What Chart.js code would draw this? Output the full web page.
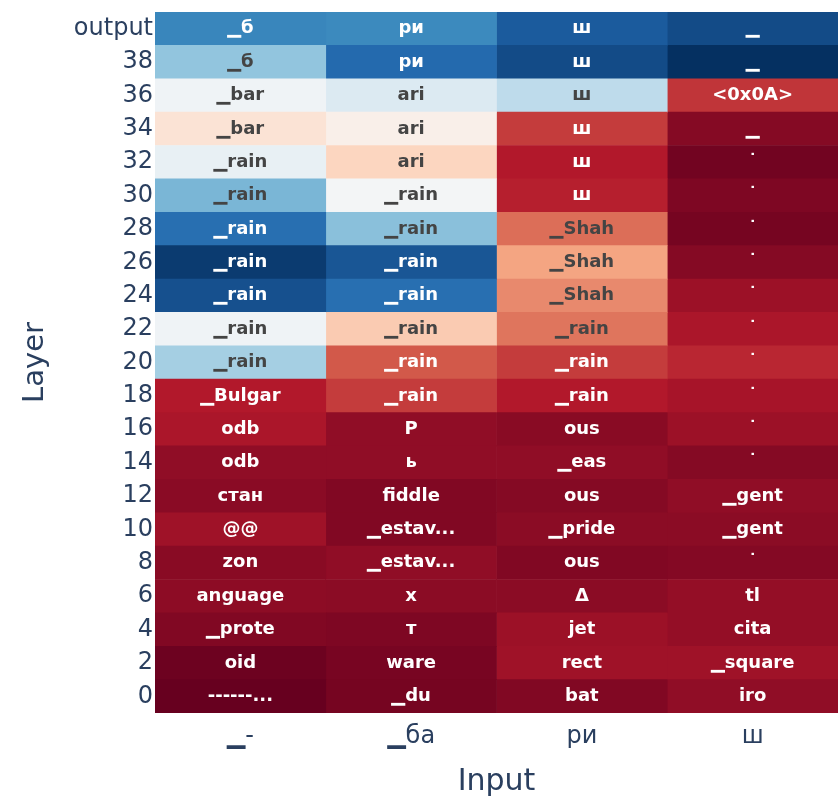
<!DOCTYPE html>
<html>
<head>
<meta charset="utf-8">
<script src="https://cdn.jsdelivr.net/npm/chart.js@4.4.1/dist/chart.umd.min.js"></script>
<style>
    html, body { margin: 0; padding: 0; background: #fff; }
    #wrap { width: 838px; height: 800px; }
</style>
</head>
<body>
<div id="wrap"><canvas id="chart"></canvas></div>
<script>
/* ── Data (rows listed top to bottom) ───────────────────── */
var INPUTS = ['▁-', '▁ба', 'ри', 'ш'];
var LAYERS = ['output', '38', '36', '34', '32', '30', '28', '26', '24', '22', '20',
              '18', '16', '14', '12', '10', '8', '6', '4', '2', '0'];

var TOKENS_1 = ['▁б', '▁б', '▁bar', '▁bar', '▁rain', '▁rain', '▁rain', '▁rain', '▁rain', '▁rain', '▁rain',
                '▁Bulgar', 'odb', 'odb', 'стан', '@@', 'zon', 'anguage', '▁prote', 'oid', '------...'];
var TOKENS_2 = ['ри', 'ри', 'ari', 'ari', 'ari', '▁rain', '▁rain', '▁rain', '▁rain', '▁rain', '▁rain',
                '▁rain', 'Р', 'ь', 'fiddle', '▁estav...', '▁estav...', 'х', 'т', 'ware', '▁du'];
var TOKENS_3 = ['ш', 'ш', 'ш', 'ш', 'ш', 'ш', '▁Shah', '▁Shah', '▁Shah', '▁rain', '▁rain',
                '▁rain', 'ous', '▁eas', 'ous', '▁pride', 'ous', 'Δ', 'jet', 'rect', 'bat'];
var TOKENS_4 = ['▁', '▁', '<0x0A>', '▁', '˙', '˙', '˙', '˙', '˙', '˙', '˙',
                '˙', '˙', '˙', '▁gent', '▁gent', '˙', 'tl', 'cita', '▁square', 'iro'];

var PROB_1 = [0.83, 0.70, 0.52, 0.43, 0.54, 0.73, 0.88, 0.98, 0.94, 0.52, 0.67,
              0.10, 0.09, 0.055, 0.047, 0.075, 0.045, 0.05, 0.035, 0.008, 0.0];
var PROB_2 = [0.82, 0.89, 0.57, 0.47, 0.39, 0.51, 0.71, 0.93, 0.88, 0.37, 0.19,
              0.15, 0.055, 0.055, 0.035, 0.035, 0.055, 0.048, 0.03, 0.022, 0.02];
var PROB_3 = [0.92, 0.95, 0.63, 0.15, 0.10, 0.11, 0.22, 0.30, 0.26, 0.23, 0.15,
              0.10, 0.045, 0.055, 0.04, 0.048, 0.035, 0.048, 0.07, 0.075, 0.035];
var PROB_4 = [0.95, 1.0, 0.14, 0.04, 0.015, 0.03, 0.02, 0.04, 0.07, 0.09, 0.12,
              0.085, 0.07, 0.04, 0.055, 0.048, 0.038, 0.06, 0.06, 0.075, 0.055];

var TOKENS = [TOKENS_1, TOKENS_2, TOKENS_3, TOKENS_4];
var PROBS  = [PROB_1, PROB_2, PROB_3, PROB_4];

/* ── Colours ────────────────────────────────────────────── */
var RDBU = [
    [103, 0, 31], [178, 24, 43], [214, 96, 77], [244, 165, 130], [253, 219, 199],
    [247, 247, 247], [209, 229, 240], [146, 197, 222], [67, 147, 195], [33, 102, 172], [5, 48, 97]
];
var AXIS_COLOR = '#2a3f5f';
var FONT = '"DejaVu Sans", Verdana, sans-serif';

function rgbFor(v) {
    var t = Math.max(0, Math.min(1, v)) * (RDBU.length - 1);
    var i = Math.min(Math.floor(t), RDBU.length - 2);
    var f = t - i;
    var a = RDBU[i], b = RDBU[i + 1];
    return [0, 1, 2].map(function (k) { return Math.round(a[k] + (b[k] - a[k]) * f); });
}

function colorFor(v) {
    var c = rgbFor(v);
    return 'rgb(' + c[0] + ',' + c[1] + ',' + c[2] + ')';
}

function textColorFor(v) {
    var c = rgbFor(v);
    var bright = (c[0] * 299 + c[1] * 587 + c[2] * 114) / 1000;
    return bright < 128 ? '#ffffff' : '#444444';
}

/* ── Cell labels ────────────────────────────────────────── */
var cellText = {
    id: 'cellText',
    afterDatasetsDraw: function (chart) {
        var ctx = chart.ctx;
        ctx.save();
        ctx.font = 'bold 18px ' + FONT;
        ctx.textAlign = 'center';
        ctx.textBaseline = 'middle';
        chart.data.datasets.forEach(function (ds, j) {
            var meta = chart.getDatasetMeta(j);
            meta.data.forEach(function (el, i) {
                var p = el.getProps(['x', 'y', 'base'], true);
                ctx.fillStyle = textColorFor(PROBS[j][i]);
                ctx.fillText(TOKENS[j][i], (p.x + p.base) / 2, p.y);
            });
        });
        ctx.restore();
    }
};

/* ── Chart ──────────────────────────────────────────────── */
var datasets = INPUTS.map(function (name, j) {
    return {
        label: name,
        data: LAYERS.map(function () { return [j, j + 1]; }),
        backgroundColor: function (c) { return colorFor(PROBS[j][c.dataIndex]); },
        borderWidth: 0,
        barPercentage: 1,
        categoryPercentage: 1,
        grouped: false
    };
});

new Chart(document.getElementById('chart'), {
    type: 'bar',
    data: { labels: LAYERS, datasets: datasets },
    plugins: [cellText],
    options: {
        indexAxis: 'y',
        responsive: true,
        maintainAspectRatio: false,
        animation: false,
        layout: { padding: { top: 12, left: 0, right: 0, bottom: 0 } },
        plugins: {
            legend: { display: false },
            tooltip: { enabled: false }
        },
        scales: {
            x: {
                type: 'linear',
                min: 0,
                max: INPUTS.length,
                grid: { display: false, drawTicks: false },
                border: { display: false },
                afterBuildTicks: function (scale) {
                    scale.ticks = INPUTS.map(function (_, i) { return { value: i + 0.5 }; });
                },
                afterFit: function (scale) {
                    scale.height = 87;
                    scale.paddingLeft = 0;
                    scale.paddingRight = 0;
                },
                ticks: {
                    padding: 9,
                    color: AXIS_COLOR,
                    font: { family: FONT, size: 24 },
                    callback: function (v, i) { return INPUTS[i]; }
                },
                title: {
                    display: true,
                    text: 'Input',
                    color: AXIS_COLOR,
                    font: { family: FONT, size: 30 },
                    padding: { top: 0, bottom: 0 }
                }
            },
            y: {
                type: 'category',
                grid: { display: false, drawTicks: false },
                border: { display: false },
                afterFit: function (scale) {
                    scale.width = 155;
                    scale.paddingTop = 0;
                    scale.paddingBottom = 0;
                },
                ticks: {
                    padding: 2,
                    color: AXIS_COLOR,
                    font: { family: FONT, size: 24 }
                },
                title: {
                    display: true,
                    text: 'Layer',
                    color: AXIS_COLOR,
                    font: { family: FONT, size: 29 },
                    padding: { top: 18, bottom: 0 }
                }
            }
        }
    }
});
</script>
</body>
</html>
